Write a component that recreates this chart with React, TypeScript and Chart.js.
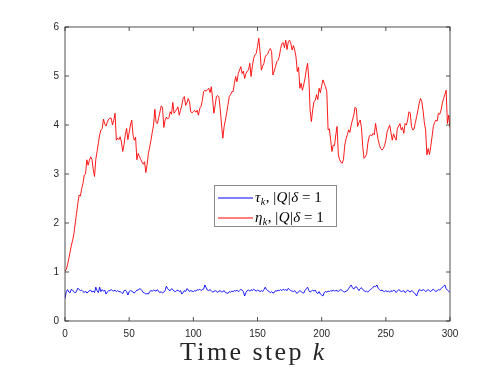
import React, { useEffect, useRef } from 'react';
import { Chart, registerables } from 'chart.js';

Chart.register(...registerables);

// Time steps k = 0..300
const steps: number[] = Array.from({ length: 301 }, (_, i) => i);

// tau_k series (blue)
const tauValues: number[] = [
  0.46, 0.60, 0.64, 0.59, 0.58, 0.65, 0.62, 0.60, 0.57, 0.61,
  0.67, 0.64, 0.62, 0.63, 0.60, 0.58, 0.61, 0.57, 0.59, 0.62,
  0.63, 0.59, 0.61, 0.58, 0.69, 0.62, 0.58, 0.69, 0.60, 0.64,
  0.61, 0.63, 0.55, 0.59, 0.62, 0.62, 0.64, 0.62, 0.61, 0.63,
  0.60, 0.62, 0.60, 0.60, 0.58, 0.56, 0.62, 0.63, 0.60, 0.53,
  0.60, 0.62, 0.61, 0.59, 0.57, 0.60, 0.63, 0.63, 0.66, 0.65,
  0.62, 0.58, 0.57, 0.55, 0.56, 0.55, 0.60, 0.62, 0.61, 0.63,
  0.62, 0.61, 0.64, 0.60, 0.58, 0.60, 0.57, 0.59, 0.62, 0.71,
  0.66, 0.63, 0.62, 0.66, 0.64, 0.61, 0.60, 0.62, 0.63, 0.60,
  0.62, 0.55, 0.58, 0.62, 0.60, 0.66, 0.64, 0.60, 0.62, 0.61,
  0.60, 0.62, 0.61, 0.64, 0.63, 0.65, 0.62, 0.64, 0.65, 0.735,
  0.68, 0.63, 0.62, 0.64, 0.62, 0.59, 0.60, 0.62, 0.61, 0.58,
  0.61, 0.62, 0.59, 0.60, 0.62, 0.58, 0.57, 0.565, 0.60, 0.59,
  0.61, 0.60, 0.62, 0.61, 0.63, 0.60, 0.62, 0.645, 0.63, 0.60,
  0.51, 0.58, 0.62, 0.63, 0.61, 0.64, 0.62, 0.65, 0.63, 0.61,
  0.63, 0.62, 0.60, 0.62, 0.60, 0.64, 0.69, 0.64, 0.62, 0.60,
  0.58, 0.60, 0.57, 0.58, 0.62, 0.61, 0.63, 0.62, 0.64, 0.62,
  0.65, 0.63, 0.64, 0.62, 0.667, 0.64, 0.62, 0.61, 0.60, 0.62,
  0.58, 0.565, 0.60, 0.62, 0.60, 0.58, 0.57, 0.62, 0.66, 0.69,
  0.62, 0.59, 0.61, 0.63, 0.61, 0.63, 0.58, 0.56, 0.60, 0.55,
  0.53, 0.51, 0.58, 0.60, 0.59, 0.61, 0.60, 0.62, 0.61, 0.63,
  0.61, 0.62, 0.62, 0.60, 0.63, 0.64, 0.62, 0.60, 0.59, 0.61,
  0.62, 0.66, 0.70, 0.735, 0.68, 0.65, 0.69, 0.70, 0.66, 0.62,
  0.66, 0.68, 0.64, 0.62, 0.60, 0.61, 0.59, 0.62, 0.64, 0.66,
  0.69, 0.71, 0.70, 0.735, 0.67, 0.64, 0.62, 0.63, 0.61, 0.60,
  0.62, 0.60, 0.61, 0.59, 0.62, 0.60, 0.63, 0.62, 0.58, 0.61,
  0.64, 0.62, 0.60, 0.61, 0.62, 0.58, 0.60, 0.63, 0.61, 0.59,
  0.62, 0.60, 0.58, 0.55, 0.51, 0.58, 0.64, 0.63, 0.62, 0.64,
  0.63, 0.60, 0.62, 0.64, 0.62, 0.60, 0.63, 0.65, 0.62, 0.60,
  0.62, 0.64, 0.63, 0.66, 0.69, 0.71, 0.735, 0.66, 0.63, 0.61,
  0.58,
];

// eta_k series (red)
const etaValues: number[] = [
  1.02, 1.05, 1.15, 1.28, 1.41, 1.55, 1.65, 1.79, 2.00, 2.20,
  2.40, 2.57, 2.55, 2.70, 2.81, 2.98, 3.00, 3.29, 3.18, 3.28,
  3.35, 3.30, 3.10, 2.95, 3.30, 3.46, 3.63, 3.80, 3.90, 3.93,
  4.12, 4.02, 3.98, 4.06, 4.12, 4.14, 4.14, 4.00, 4.10, 4.24,
  3.69, 3.73, 3.70, 3.76, 3.65, 3.46, 3.60, 3.80, 3.93, 3.70,
  3.85, 4.00, 4.10, 3.80, 3.69, 3.75, 3.29, 3.42, 3.36, 3.30,
  3.24, 3.20, 3.25, 3.03, 3.20, 3.42, 3.55, 3.69, 3.85, 4.00,
  4.32, 4.05, 4.03, 4.15, 4.27, 4.39, 4.35, 3.95, 4.10, 4.16,
  4.12, 4.15, 4.27, 4.22, 4.46, 4.24, 4.28, 4.32, 4.37, 4.20,
  4.30, 4.40, 4.54, 4.58, 4.40, 4.45, 4.54, 4.48, 4.27, 4.25,
  4.27, 4.30, 4.26, 4.30, 4.20, 4.34, 4.38, 4.50, 4.68, 4.71,
  4.69, 4.72, 4.75, 4.66, 4.78, 4.54, 4.24, 4.40, 4.58, 4.60,
  4.56, 4.31, 4.00, 3.73, 3.97, 4.10, 4.25, 4.41, 4.58, 4.62,
  4.68, 4.68, 4.85, 4.99, 4.88, 5.05, 5.12, 5.19, 5.05, 5.10,
  4.95, 5.05, 5.10, 5.12, 5.26, 4.99, 5.20, 5.36, 5.43, 5.46,
  5.60, 5.77, 5.50, 5.12, 5.20, 5.26, 5.39, 5.43, 5.45, 5.52,
  5.56, 5.50, 5.02, 5.10, 5.19, 5.29, 5.32, 5.40, 5.56, 5.66,
  5.68, 5.58, 5.73, 5.54, 5.70, 5.73, 5.66, 5.53, 5.62, 5.53,
  5.39, 5.09, 5.18, 4.75, 4.85, 4.71, 4.82, 4.95, 5.12, 5.26,
  4.95, 4.30, 4.07, 4.31, 4.48, 4.50, 4.62, 4.52, 4.75, 4.66,
  4.80, 4.92, 4.85, 4.78, 4.68, 3.90, 3.92, 3.70, 3.46, 3.59,
  3.58, 3.80, 3.97, 3.39, 3.29, 3.24, 3.22, 3.30, 3.59, 3.72,
  3.80, 3.90, 3.85, 4.00, 4.10, 4.20, 4.36, 4.34, 3.97, 4.05,
  4.10, 3.95, 3.56, 3.32, 3.35, 3.40, 3.63, 3.76, 3.80, 3.78,
  3.83, 3.80, 4.03, 3.86, 3.70, 3.59, 3.52, 3.49, 3.52, 3.58,
  3.69, 3.86, 3.93, 4.00, 3.85, 3.69, 3.82, 3.75, 3.69, 3.93,
  3.98, 4.03, 3.90, 3.95, 3.83, 4.03, 4.00, 4.10, 4.27, 4.25,
  3.97, 3.90, 3.92, 4.05, 4.17, 4.30, 4.44, 4.54, 4.48, 4.30,
  4.05, 3.90, 3.39, 3.52, 3.40, 3.56, 3.76, 3.97, 4.05, 4.10,
  4.08, 4.24, 4.22, 4.30, 4.44, 4.54, 4.62, 4.71, 4.03, 4.20,
  3.95,
];

const xTicks: number[] = [0, 50, 100, 150, 200, 250, 300];
const yTicks: number[] = [0, 1, 2, 3, 4, 5, 6];
const seriesSymbols: string[] = ['τ', 'η'];
const seriesColors: string[] = ['#0000ff', '#ff0000'];
const seriesLabels: string[] = ['τk, |Q|δ=1', 'ηk, |Q|δ=1'];
const axisColor = '#262626';

// legend box geometry (page pixels)
const legendBox = { left: 214, top: 185, width: 123, height: 42 };

const boxPlugin = {
  id: 'matlabBox',
  afterDatasetsDraw(chart: any) {
    const { ctx, chartArea, scales } = chart;
    const { left, right, top, bottom } = chartArea;
    const xs = scales.x;
    const ys = scales.y;
    ctx.save();
    ctx.strokeStyle = axisColor;
    ctx.lineWidth = 0.8;
    ctx.strokeRect(left, top, right - left, bottom - top);
    ctx.beginPath();
    const tl = 4;
    xTicks.forEach((v) => {
      const px = xs.getPixelForValue(v);
      ctx.moveTo(px, bottom);
      ctx.lineTo(px, bottom - tl);
      ctx.moveTo(px, top);
      ctx.lineTo(px, top + tl);
    });
    yTicks.forEach((v) => {
      const py = ys.getPixelForValue(v);
      ctx.moveTo(left, py);
      ctx.lineTo(left + tl, py);
      ctx.moveTo(right, py);
      ctx.lineTo(right - tl, py);
    });
    ctx.stroke();

    // legend box and line samples
    const b = legendBox;
    ctx.fillStyle = '#ffffff';
    ctx.fillRect(b.left, b.top, b.width, b.height);
    ctx.strokeStyle = '#8a8a8a';
    ctx.lineWidth = 1;
    ctx.strokeRect(b.left + 0.5, b.top + 0.5, b.width - 1, b.height - 1);
    chart.data.datasets.forEach((ds: any, i: number) => {
      ctx.beginPath();
      ctx.strokeStyle = seriesColors[i];
      ctx.lineWidth = 1.2;
      const yy = b.top + 13 + i * 20;
      ctx.moveTo(b.left + 4, yy);
      ctx.lineTo(b.left + 39, yy);
      ctx.stroke();
    });
    ctx.restore();
  },
};

export default function App() {
  const canvasRef = useRef<HTMLCanvasElement | null>(null);

  useEffect(() => {
    const canvas = canvasRef.current;
    if (!canvas) return;
    const tickFont = { family: "'Liberation Sans', Arial, sans-serif", size: 10 };
    const chart = new Chart(canvas, {
      type: 'line',
      data: {
        datasets: [
          {
            label: seriesLabels[0],
            data: steps.map((k, i) => ({ x: k, y: tauValues[i] })),
            borderColor: seriesColors[0],
            borderWidth: 0.9,
            pointRadius: 0,
            tension: 0,
            fill: false,
          },
          {
            label: seriesLabels[1],
            data: steps.map((k, i) => ({ x: k, y: etaValues[i] })),
            borderColor: seriesColors[1],
            borderWidth: 0.9,
            pointRadius: 0,
            tension: 0,
            fill: false,
          },
        ],
      },
      options: {
        animation: false,
        responsive: false,
        events: [],
        layout: { padding: { top: 27, right: 48, left: 0, bottom: 0 } },
        plugins: { legend: { display: false }, tooltip: { enabled: false } },
        scales: {
          x: {
            type: 'linear',
            min: 0,
            max: 300,
            afterBuildTicks: (s: any) => {
              s.ticks = xTicks.map((v) => ({ value: v }));
            },
            afterFit: (s: any) => {
              s.height = 53;
            },
            grid: { display: false, drawTicks: false },
            border: { display: false },
            ticks: { font: tickFont, color: axisColor, padding: 7, maxRotation: 0, autoSkip: false },
          },
          y: {
            type: 'linear',
            min: 0,
            max: 6,
            afterBuildTicks: (s: any) => {
              s.ticks = yTicks.map((v) => ({ value: v }));
            },
            afterFit: (s: any) => {
              s.width = 65;
            },
            grid: { display: false, drawTicks: false },
            border: { display: false },
            ticks: { font: tickFont, color: axisColor, padding: 6, autoSkip: false },
          },
        },
      },
      plugins: [boxPlugin],
    } as any);
    return () => chart.destroy();
  }, []);

  const serif = "'Liberation Serif', 'Times New Roman', serif";

  return (
    <div style={{ position: 'fixed', left: 0, top: 0, width: 498, height: 374, background: '#fff' }}>
      <canvas ref={canvasRef} width={498} height={374} style={{ display: 'block' }} />
      <div
        style={{
          position: 'absolute',
          left: 180,
          top: 339,
          fontFamily: serif,
          fontSize: 26,
          lineHeight: 1,
          letterSpacing: 2.4,
          color: axisColor,
          whiteSpace: 'nowrap',
        }}
      >
        Time step <i>k</i>
      </div>
      {seriesSymbols.map((sym, i) => (
        <div
          key={i}
          style={{
            position: 'absolute',
            left: legendBox.left + 41,
            top: legendBox.top + 5 + i * 20,
            fontFamily: serif,
            fontSize: 15,
            lineHeight: 1,
            letterSpacing: 0.4,
            color: '#000',
            whiteSpace: 'nowrap',
          }}
        >
          <i>{sym}</i>
          <i style={{ fontSize: 10, position: 'relative', top: 3 }}>k</i>,{'\u2009'}|<i>Q</i>|<i>δ</i>
          {'\u2009'}={'\u2009'}1
        </div>
      ))}
    </div>
  );
}
